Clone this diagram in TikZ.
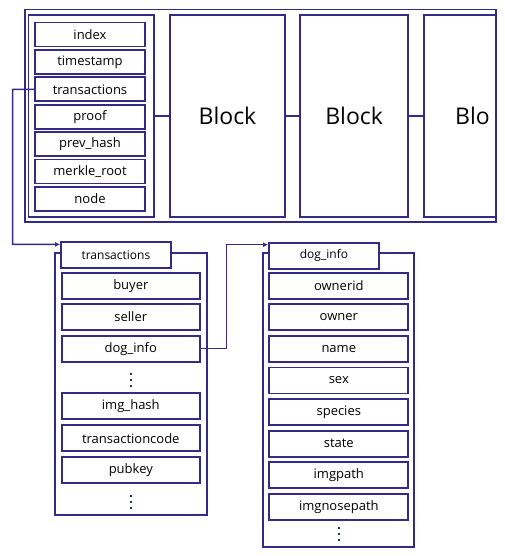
\documentclass[tikz,border=0pt]{standalone}
\usepackage{fontspec}
\setmainfont{Open Sans}
\usetikzlibrary{arrows.meta,calc}
\definecolor{chainblue}{RGB}{52,42,135}
\definecolor{dotgray}{RGB}{35,52,82}
\tikzset{
  frame/.style={draw=chainblue,line width=1.8pt},
  link/.style={draw=chainblue,line width=1.5pt},
  field/.style={frame,fill=white,inner sep=0pt,minimum height=25pt,font=\fontsize{13}{15}\selectfont},
  headbox/.style={frame,fill=white,inner sep=0pt,minimum width=110pt,minimum height=26pt,font=\fontsize{12}{14}\selectfont},
  blockbox/.style={frame,inner sep=0pt,minimum height=202pt,font=\fontsize{23}{26}\selectfont},
}
\newcommand\dotcol[1]{\foreach \d in {-6,0,6}{\fill[dotgray] ($(#1)+(-1.1,\d-1.1)$) rectangle ++(2.2,2.2);}}
\begin{document}
\begin{tikzpicture}[x=1pt,y=-1pt]
  \useasboundingbox (0,0) rectangle (504,556);

  % chain of blocks
  \draw[frame] (25,9.5) rectangle (496,222);
  \node[blockbox,minimum width=125.5pt] (block1) at (91.25,116) {};
  \foreach \lbl [count=\i] in {index,timestamp,transactions,proof,prev\_hash,merkle\_root,node}
    \node[field,minimum width=110pt,minimum height=24pt] (bf\i) at (90,{34.5+27.4*(\i-1)}) {\lbl};
  \node[blockbox,minimum width=115pt] (block2) at (227.5,116) {Block};
  \node[blockbox,minimum width=108.3pt] (block3) at (354.15,116) {Block};
  \begin{scope}
    \clip (0,0) rectangle (495.5,556);
    \node[blockbox,minimum width=108.3pt] (block4) at (478.15,116) {};
  \end{scope}
  \node[font=\fontsize{23}{26}\selectfont,inner sep=0pt,anchor=west] (blo) at (455,116) {Blo};
  \draw[link] (block1.east) -- (block2.west);
  \draw[link] (block2.east) -- (block3.west);
  \draw[link] (block3.east) -- (block4.west);

  % transactions
  \draw[frame] (55.3,252.7) rectangle (206.7,515);
  \node[headbox,minimum width=109.7pt] (thead) at (115.9,255.3) {transactions};
  \foreach \lbl/\y [count=\i] in {buyer/285.7,seller/317,dog\_info/348.7,img\_hash/406.3,transactioncode/438.3,pubkey/470}
    \node[field,minimum width=138.3pt,minimum height=26pt] (tf\i) at (130.8,\y) {\lbl};
  \coordinate (tdots1) at (130.8,380);
  \coordinate (tdots2) at (130.8,501.7);
  \dotcol{tdots1}
  \dotcol{tdots2}

  % dog_info
  \draw[frame] (263.3,252.7) rectangle (414.3,547.3);
  \node[headbox] (dhead) at (324,255.6) {dog\_info};
  \foreach \lbl [count=\i] in {ownerid,owner,name,sex,species,state,imgpath,imgnosepath}
    \node[field,minimum width=139pt,minimum height=26pt] (df\i) at (338.8,{285.7+31.6*(\i-1)}) {\lbl};
  \coordinate (ddots) at (338.8,534);
  \dotcol{ddots}

  % links
  \draw[link,-{Latex[length=5pt,width=5pt]}] (bf3.west) -- (12.7,89.5) |- ([yshift=-3pt]thead.north west);
  \draw[link,-{Latex[length=5pt,width=5pt]}] (tf3.east) -- (226.5,348.7) |- ([yshift=-3pt]dhead.north west);
\end{tikzpicture}
\end{document}
